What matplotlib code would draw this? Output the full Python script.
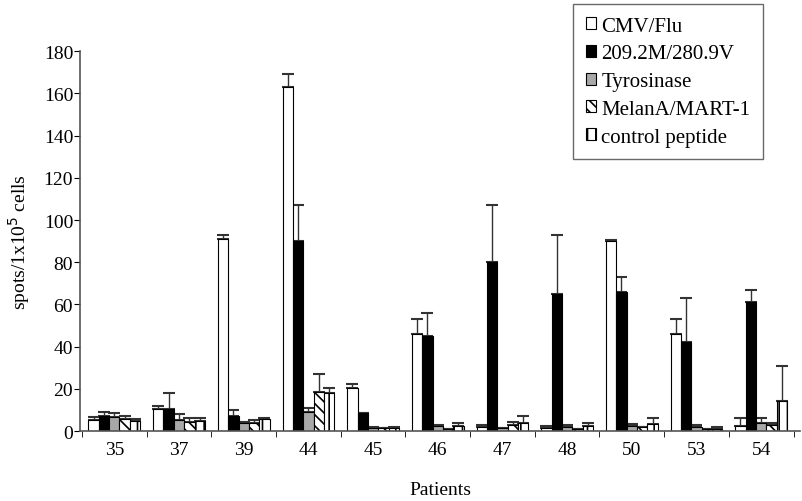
import numpy as np
import matplotlib.pyplot as plt

plt.rcParams['font.family'] = ['Liberation Serif', 'DejaVu Serif']
plt.rcParams['hatch.linewidth'] = 1.2

# 数据
patients = ['35', '37', '39', '44', '45', '46', '47', '48', '50', '53', '54']
series = ['CMV/Flu', '209.2M/280.9V', 'Tyrosinase', 'MelanA/MART-1', 'control peptide']
cmv = [5.2, 10.4, 91, 163, 20.5, 46, 2, 1.5, 90, 46, 2.5]
cmv_err = [1.6, 1.6, 2, 6, 2, 7, 1, 1, 0.5, 7, 3.5]
mut = [7, 10.4, 7, 90, 8.5, 45, 80, 65, 66, 42, 61]
mut_err = [2, 7.8, 3, 17, 0, 11, 27, 28, 7, 21, 6]
tyro = [6.8, 5.2, 4, 9, 1.5, 2.5, 1.5, 2, 2.5, 2, 4]
tyro_err = [1.7, 2.8, 0.5, 2, 0.5, 0.5, 0, 1, 1, 1, 2]
melan = [5.5, 4.5, 4, 18.3, 1.5, 1, 3, 1, 2, 1, 3]
melan_err = [1.5, 1.8, 1, 8.5, 0, 0, 1.5, 0, 0, 0, 1]
ctrl = [4.8, 4.7, 5.5, 18, 1.5, 2.5, 4, 2.5, 3.5, 1, 14]
ctrl_err = [1, 1.3, 0.5, 2.5, 0.5, 1.5, 3, 1.5, 2.5, 1, 17]

vals = [cmv, mut, tyro, melan, ctrl]
errs = [cmv_err, mut_err, tyro_err, melan_err, ctrl_err]
colors = ['white', 'black', '#a8a8a8', 'white', 'white']
hatches = [None, None, None, '\\\\\\', '||']

fig = plt.figure(figsize=(8.02, 5.02), dpi=100)
ax = fig.add_axes([0.0998, 0.1394, 0.8977, 0.7566])

x = np.arange(len(patients))
w = 0.16
for i in range(5):
    pos = x + (i - 2) * w
    ax.bar(pos, vals[i], w, color=colors[i], edgecolor='black', linewidth=0.8,
           hatch=hatches[i], label=series[i], zorder=2)
    ax.errorbar(pos, vals[i], yerr=[np.zeros(len(x)), errs[i]], fmt='none',
                ecolor='#333333', elinewidth=1.0, capsize=4, capthick=1.5, zorder=1)

ax.set_xlim(-0.53, 10.6)
ax.set_ylim(0, 180)
ax.set_yticks(range(0, 181, 20))
ax.set_xticks(x)
ax.set_xticklabels(patients)
ax.set_xticks(np.arange(-0.5, 10.6, 1), minor=True)
ax.tick_params(axis='x', which='major', length=0, labelsize=14, pad=7)
ax.tick_params(axis='x', which='minor', length=4, direction='out')
ax.tick_params(axis='y', length=4, direction='out', labelsize=14, pad=1)
for s in ['top', 'right']:
    ax.spines[s].set_visible(False)
ax.spines['left'].set_color('#555555')
ax.spines['bottom'].set_color('#555555')
ax.spines['left'].set_linewidth(1.2)
ax.spines['bottom'].set_linewidth(1.2)

ax.set_ylabel('spots/1x10$^5$ cells', fontsize=14, labelpad=8)
ax.set_xlabel('Patients', fontsize=14, labelpad=17)

leg = ax.legend(loc='upper left', bbox_to_anchor=(573 / 802, 1 - 5 / 502),
                bbox_transform=fig.transFigure, fontsize=15, frameon=True,
                fancybox=False, edgecolor='#444444', handlelength=0.5,
                handleheight=0.5, handletextpad=0.25, labelspacing=0.42,
                borderpad=0.6, borderaxespad=0)
leg.get_frame().set_linewidth(1.0)

fig.savefig('out.png', dpi=100)
